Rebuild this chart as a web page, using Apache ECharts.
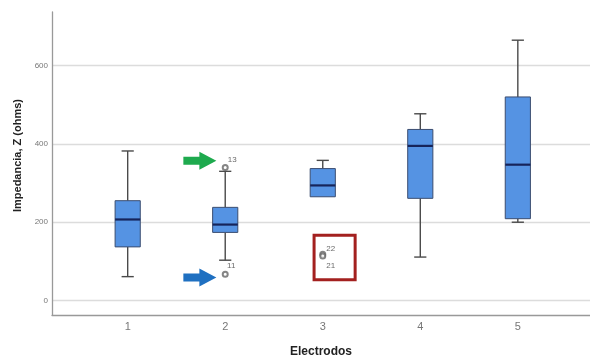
<!DOCTYPE html>
<html><head><meta charset="utf-8">
<script src="https://cdn.jsdelivr.net/npm/echarts@6/dist/echarts.min.js"></script>
<style>html,body{margin:0;padding:0;background:#fff}#c{width:590px;height:356px}</style>
</head><body><div id="c"></div>
<script>
const categories = [1, 2, 3, 4, 5];
const mins    = [61, 103, 265, 111, 200];
const q1s     = [137, 174, 265, 261, 209];
const medians = [207, 194, 294, 395, 347];
const q3s     = [255, 238, 337, 437, 520];
const maxs    = [382, 330, 358, 477, 665];
// outliers: [electrode, value, case label]
const outlierX = [2, 2, 3, 3];
const outlierY = [340, 67, 118, 114];
const outlierLabels = ['13', '11', '22', '21'];
const yTicks = [0, 200, 400, 600];
// annotation arrows: [x, y]
const arrowGreen = [1.74, 357];
const arrowBlue = [1.74, 59];
// highlight rectangle corners
const highlightBox = [[2.911, 167], [3.332, 53]];

const labelOffsets = [[7, -8], [6, -8], [8, -6], [8, 10]];

const boxData = categories.map((c, i) => [c, mins[i], q1s[i], medians[i], q3s[i], maxs[i]]);
const outData = outlierX.map((x, i) => ({
  value: [x, outlierY[i]],
  label: { show: true, formatter: outlierLabels[i], position: 'inside', offset: labelOffsets[i] }
}));

const chart = echarts.init(document.getElementById('c'));
const arrowPath = 'path://M0,5 L16,5 L16,0 L33,9 L16,18 L16,13 L0,13 Z';

chart.setOption({
  animation: false,
  grid: { left: 52, top: 12, right: 0, bottom: 41, containLabel: false, outerBoundsMode: 'none' },
  xAxis: {
    type: 'value', min: 0.224, max: 5.74,
    name: 'Electrodos', nameLocation: 'middle', nameGap: 31,
    nameTextStyle: { fontFamily: 'Liberation Sans', fontWeight: 'bold', fontSize: 12, color: '#222' },
    axisLine: { onZero: false, lineStyle: { color: '#999', width: 1.3 } },
    axisTick: { show: false },
    splitLine: { show: false },
    axisLabel: { customValues: categories, fontFamily: 'Liberation Sans', fontSize: 11, color: '#777', margin: 6 }
  },
  yAxis: {
    type: 'value', min: -37, max: 737,
    name: 'Impedancia, Z (ohms)', nameLocation: 'middle', nameGap: 26,
    nameTextStyle: { fontFamily: 'Liberation Sans', fontWeight: 'bold', fontSize: 11, color: '#222', padding: [0, 0, 0, 16] },
    axisLine: { show: true, onZero: false, lineStyle: { color: '#999', width: 1.3 } },
    axisTick: { show: false, customValues: yTicks },
    axisLabel: { customValues: yTicks, fontFamily: 'Liberation Sans', fontSize: 8, color: '#777', margin: 4 },
    splitLine: { show: true, lineStyle: { color: '#dcdcdc', width: 1.3 } }
  },
  series: [
    {
      type: 'custom',
      data: boxData,
      encode: { x: 0, y: [1, 2, 3, 4, 5] },
      renderItem: function (params, api) {
        const x = api.value(0);
        const pMin = api.coord([x, api.value(1)]);
        const pQ1 = api.coord([x, api.value(2)]);
        const pMed = api.coord([x, api.value(3)]);
        const pQ3 = api.coord([x, api.value(4)]);
        const pMax = api.coord([x, api.value(5)]);
        const bw = api.size([0.258, 0])[0];
        const cw = api.size([0.125, 0])[0];
        const cx = pMin[0];
        const ls = { stroke: '#4a4a4a', lineWidth: 1.4 };
        const children = [];
        if (pMax[1] < pQ3[1]) {
          children.push({ type: 'line', shape: { x1: cx, y1: pMax[1], x2: cx, y2: pQ3[1] }, style: ls });
          children.push({ type: 'line', shape: { x1: cx - cw / 2, y1: pMax[1], x2: cx + cw / 2, y2: pMax[1] }, style: ls });
        }
        if (pMin[1] > pQ1[1]) {
          children.push({ type: 'line', shape: { x1: cx, y1: pQ1[1], x2: cx, y2: pMin[1] }, style: ls });
          children.push({ type: 'line', shape: { x1: cx - cw / 2, y1: pMin[1], x2: cx + cw / 2, y2: pMin[1] }, style: ls });
        }
        children.push({ type: 'rect', shape: { x: cx - bw / 2, y: pQ3[1], width: bw, height: pQ1[1] - pQ3[1] },
          style: { fill: '#5593e3', stroke: '#3b4d70', lineWidth: 1 } });
        children.push({ type: 'line', shape: { x1: cx - bw / 2, y1: pMed[1], x2: cx + bw / 2, y2: pMed[1] },
          style: { stroke: '#16245a', lineWidth: 2.2 } });
        return { type: 'group', children: children };
      },
      z: 3
    },
    {
      type: 'scatter',
      data: outData,
      symbol: 'emptyCircle', symbolSize: 5,
      itemStyle: { color: '#666', borderColor: '#666', borderWidth: 1 },
      label: { fontFamily: 'Liberation Sans', fontSize: 8, color: '#444' },
      z: 4,
      markArea: {
        silent: true,
        itemStyle: { color: 'rgba(0,0,0,0)', borderColor: '#a3201f', borderWidth: 3 },
        data: [[{ coord: highlightBox[0] }, { coord: highlightBox[1] }]]
      }
    },
    {
      type: 'scatter',
      symbol: arrowPath, symbolSize: [33, 18],
      data: [
        { value: arrowGreen, itemStyle: { color: '#1eaa4e', opacity: 1 } },
        { value: arrowBlue, itemStyle: { color: '#1f70c1', opacity: 1 } }
      ],
      z: 5
    }
  ]
});
</script></body></html>
